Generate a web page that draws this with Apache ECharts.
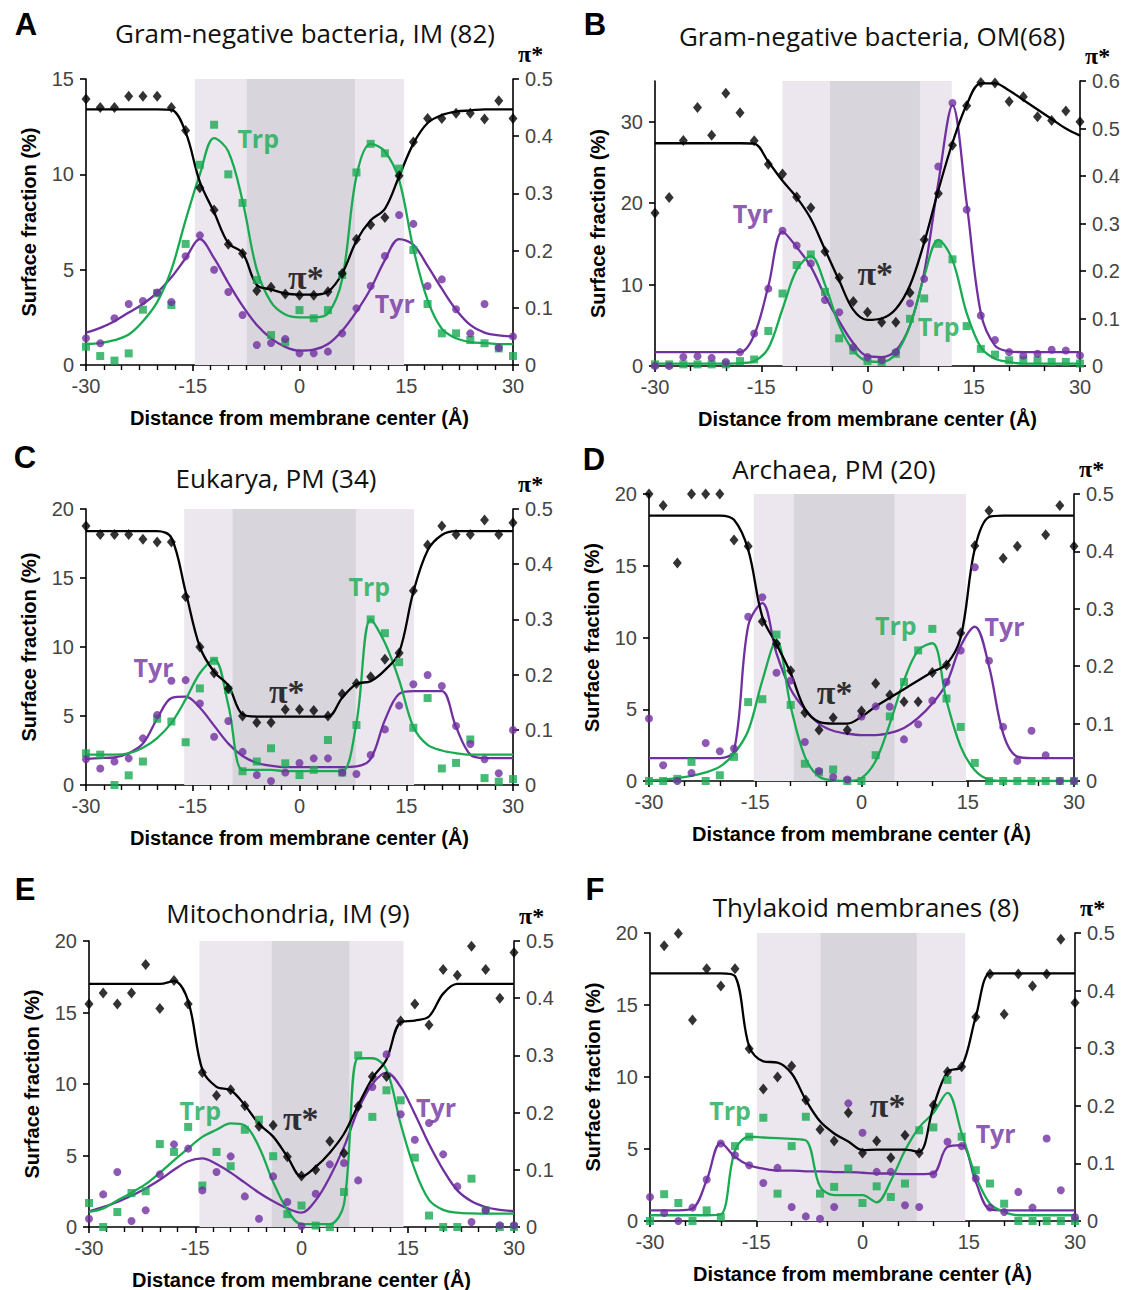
<!DOCTYPE html>
<html>
<head>
<meta charset="utf-8">
<title>Trp / Tyr surface fraction and polarity profiles</title>
<script src="https://cdn.jsdelivr.net/npm/echarts@6/dist/echarts.min.js"></script>
<style>
  html, body { margin: 0; padding: 0; background: #fff; }
  #chart { width: 1132px; height: 1290px; }
</style>
</head>
<body>
<div id="chart"></div>
<script>
// Distance from membrane center (Å), sampled every 2 Å
const xs = [-30,-28,-26,-24,-22,-20,-18,-16,-14,-12,-10,-8,-6,-4,-2,0,2,4,6,8,10,12,14,16,18,20,22,24,26,28,30];

// Axis tick values
const surfTicks15 = [0, 5, 10, 15];
const surfTicks30 = [0, 10, 20, 30];
const surfTicks20 = [0, 5, 10, 15, 20];
const piTicks05 = [0, 0.1, 0.2, 0.3, 0.4, 0.5];
const piTicks06 = [0, 0.1, 0.2, 0.3, 0.4, 0.5, 0.6];
const distTicks = [-30, -15, 0, 15, 30];

// ---- A: Gram-negative bacteria, inner membrane ----
const piA     = [0.465,0.45,0.45,0.47,0.47,0.47,0.45,0.41,0.31,0.271,0.211,0.195,0.13,0.136,0.124,0.122,0.122,0.128,0.16,0.22,0.245,0.258,0.331,0.39,0.431,0.431,0.44,0.44,0.43,0.462,0.431];
const piFitA  = [0.447,0.447,0.447,0.447,0.447,0.447,0.446,0.407,0.32,0.267,0.213,0.196,0.14,0.132,0.125,0.123,0.123,0.128,0.16,0.217,0.253,0.273,0.33,0.387,0.423,0.437,0.443,0.445,0.447,0.447,0.447];
const trpA    = [0.96,0.47,0.23,0.61,2.9,3.76,3.15,6.35,10.5,12.6,10.0,8.5,4.46,1.57,1.2,2.88,2.45,2.88,4.72,10.1,11.6,11.1,10.3,6.03,3.2,1.66,1.66,1.31,1.14,0.87,0.47];
const trpFitA = [1.1,1.15,1.3,1.6,2.3,3.3,5.0,7.6,10.0,11.9,11.2,8.6,5.0,3.3,2.65,2.5,2.5,2.7,4.5,9.9,11.6,11.2,9.7,6.1,3.4,1.9,1.4,1.2,1.15,1.1,1.1];
const tyrA    = [1.4,1.14,2.45,3.2,3.36,3.8,3.3,5.7,6.8,5.0,3.83,2.62,1.05,1.15,1.36,0.61,0.61,0.7,1.66,2.97,4.14,5.72,7.87,7.4,4.14,4.49,2.92,1.66,3.2,0.9,1.5];
const tyrFitA = [1.7,1.95,2.3,2.75,3.2,3.8,4.6,5.6,6.6,5.6,4.3,3.1,2.1,1.4,0.95,0.75,0.8,1.1,1.8,2.8,4.0,5.5,6.6,6.3,5.2,4.0,2.9,2.1,1.7,1.55,1.5];
const outerA = [-14.7, 14.7];
const innerA = [-7.4, 7.8];

// ---- B: Gram-negative bacteria, outer membrane ----
const piB     = [0.322,0.355,0.475,0.544,0.486,0.574,0.533,0.474,0.425,0.404,0.356,0.333,0.241,0.186,0.136,0.113,0.092,0.092,0.154,0.266,0.363,0.465,0.548,0.597,0.596,0.557,0.567,0.525,0.517,0.537,0.514];
const piFitB  = [0.469,0.469,0.469,0.469,0.469,0.469,0.469,0.468,0.43,0.39,0.355,0.31,0.245,0.18,0.118,0.097,0.1,0.12,0.17,0.26,0.37,0.47,0.55,0.595,0.595,0.58,0.56,0.54,0.52,0.5,0.485];
const trpB    = [0.2,0.2,0.2,0.2,0.2,0.2,0.6,0.8,4.3,8.9,12.4,13.7,9.1,3.4,1.9,0.6,0.5,1.5,5.8,8.3,15.0,13.1,4.9,2.1,1.4,0.7,0.7,0.7,0.5,0.5,0.3];
const trpFitB = [0.3,0.3,0.3,0.3,0.3,0.3,0.35,0.6,2.2,7.0,11.8,13.5,10.0,5.0,1.9,0.6,0.5,1.5,5.0,11.0,15.5,13.0,6.5,2.3,0.9,0.5,0.3,0.3,0.3,0.3,0.3];
const tyrB    = [0,0,1.1,1.2,1.0,0.5,1.7,4.0,9.5,16.6,14.8,12.6,8.1,6.6,2.3,1.1,0.7,1.7,7.7,10.7,24.5,32.3,19.2,6.2,3.2,1.7,1.3,1.5,2.0,1.9,1.3];
const tyrFitB = [1.7,1.7,1.7,1.7,1.7,1.7,1.7,3.8,9.8,16.5,14.6,12.2,8.6,5.5,2.8,1.2,1.1,1.9,5.0,11.5,22.5,32.0,20.0,6.5,2.5,1.8,1.7,1.7,1.7,1.7,1.7];
const outerB = [-12.0, 11.9];
const innerB = [-5.3, 7.4];

// ---- C: Eukarya, plasma membrane ----
const piC     = [0.469,0.454,0.454,0.454,0.445,0.44,0.44,0.341,0.25,0.203,0.175,0.125,0.113,0.113,0.137,0.137,0.135,0.125,0.165,0.184,0.196,0.228,0.239,0.352,0.435,0.469,0.454,0.454,0.48,0.454,0.475];
const piFitC  = [0.46,0.46,0.46,0.46,0.46,0.46,0.448,0.35,0.25,0.205,0.18,0.128,0.124,0.124,0.124,0.124,0.124,0.124,0.158,0.183,0.188,0.208,0.24,0.35,0.425,0.453,0.46,0.46,0.46,0.46,0.46];
const trpC    = [2.3,2.2,0,0.7,1.7,4.8,4.6,3.1,7.0,9.0,6.9,1.0,1.7,2.66,1.57,0.72,1.1,3.26,0.9,4.35,12.0,11.0,8.9,4.15,6.3,1.2,1.6,3.3,0.5,0.24,0.43];
const trpFitC = [2.2,2.2,2.2,2.3,2.7,3.4,4.5,6.2,8.1,9.1,5.8,1.1,1.1,1.1,1.0,1.0,1.0,1.0,1.0,4.5,12.0,10.3,7.6,4.2,2.9,2.5,2.3,2.2,2.2,2.2,2.2];
const tyrC    = [1.86,1.2,1.7,1.93,3.38,5.07,7.56,7.6,5.9,3.5,4.64,2.4,0.72,0.29,0.9,1.6,1.93,1.93,0.9,0.8,2.17,4.03,5.75,7.3,7.97,7.17,4.27,2.97,1.86,0.85,3.99];
const tyrFitC = [1.9,1.95,2.0,2.3,3.0,4.8,6.3,6.4,5.6,4.3,3.0,2.1,1.6,1.4,1.3,1.3,1.3,1.3,1.3,1.35,1.9,4.7,6.6,6.8,6.8,6.8,4.2,2.2,1.95,1.95,1.95];
const outerC = [-16.2, 16.1];
const innerC = [-9.4, 7.9];

// ---- D: Archaea, plasma membrane ----
const piD     = [0.5,0.48,0.38,0.5,0.5,0.5,0.42,0.409,0.278,0.239,0.192,0.119,0.089,0.11,0.089,0.122,0.17,0.15,0.138,0.138,0.189,0.202,0.258,0.41,0.471,0.388,0.409,null,0.429,0.48,0.409];
const piFitD  = [0.4625,0.4625,0.4625,0.4625,0.4625,0.4625,0.455,0.403,0.286,0.238,0.188,0.126,0.103,0.1,0.1,0.112,0.13,0.145,0.16,0.175,0.19,0.203,0.25,0.405,0.46,0.4625,0.4625,0.4625,0.4625,0.4625,0.4625];
const trpD    = [0,0,0.15,1.33,0,0.4,1.68,5.5,5.7,10.2,5.3,1.2,0.6,0.8,0,0,1.8,4.5,6.9,9.1,10.6,5.75,3.77,1.26,0,0,0,0,0,0,0];
const trpFitD = [0.05,0.1,0.2,0.35,0.6,1.0,1.9,3.5,7.0,9.8,5.2,1.7,0.3,0.05,0,0.2,1.4,4.0,7.0,9.1,9.6,5.6,2.4,0.75,0.1,0,0,0,0,0,0];
const tyrD    = [4.35,1.1,0,0.56,2.65,2.07,2.26,11.45,12.8,7.54,7.0,2.72,0.7,0.28,0.1,4.5,5.2,5.17,2.9,3.96,5.6,6.9,9.1,14.9,8.38,3.77,1.4,3.5,1.8,0,0];
const tyrFitD = [1.6,1.6,1.6,1.6,1.6,1.6,2.1,10.8,12.4,8.9,6.4,5.0,4.0,3.5,3.3,3.2,3.2,3.35,3.7,4.4,5.4,6.8,9.4,10.75,8.0,3.3,1.7,1.6,1.6,1.6,1.6];
const outerD = [-15.2, 14.75];
const innerD = [-9.55, 4.65];

// ---- E: Mitochondria, inner membrane ----
const piE     = [0.39,0.409,0.39,0.409,0.459,0.382,0.431,0.39,0.27,0.23,0.24,0.212,0.176,0.178,0.123,0.089,0.1,0.15,0.129,0.211,0.263,0.263,0.36,0.39,0.353,0.45,0.44,0.491,0.45,0.4,0.48];
const piFitE  = [0.425,0.425,0.425,0.425,0.425,0.425,0.43,0.395,0.275,0.245,0.239,0.213,0.18,0.158,0.123,0.088,0.105,0.13,0.163,0.213,0.26,0.293,0.358,0.361,0.368,0.408,0.425,0.425,0.425,0.425,0.425];
const trpE    = [1.68,0,1.05,2.38,2.5,5.8,5.25,7.0,2.9,5.25,4.25,6.8,7.5,4.95,0.9,1.5,0.1,0,2.45,12.0,7.7,9.56,8.86,4.85,0.8,0,0,3.38,1.17,0,0];
const trpFitE = [1.05,1.3,1.86,2.4,3.0,3.8,4.66,5.5,6.3,6.8,7.25,7.1,5.6,3.15,1.2,0.2,0.2,0.2,1.6,11.8,11.8,11.0,7.2,4.0,1.9,1.2,1.0,0.95,0.93,0.93,0.93];
const tyrE    = [0.58,2.28,3.85,0.42,1.17,3.68,5.78,5.48,2.56,3.85,4.94,2.14,0.58,3.54,1.75,0.05,2.33,4.38,4.47,3.26,9.79,12.07,7.88,6.1,7.27,5.08,2.84,0.35,1.17,0.12,0.12];
const tyrFitE = [1.1,1.4,1.75,2.2,2.7,3.3,4.0,4.6,4.8,4.4,3.8,3.1,2.4,1.8,1.3,1.0,1.86,3.5,5.6,8.2,10.0,10.8,9.8,7.9,5.8,4.0,2.56,1.8,1.4,1.2,1.1];
const outerE = [-14.4, 14.4];
const innerE = [-4.2, 6.75];

// ---- F: Thylakoid membranes ----
const piF     = [null,0.478,0.499,0.349,0.438,0.408,0.438,0.299,0.229,0.25,0.269,0.21,0.159,0.139,0.188,0.118,0.139,0.11,0.149,0.118,0.201,0.259,0.268,0.354,0.429,0.359,0.429,0.408,0.429,0.489,0.379];
const piFitF  = [0.43,0.43,0.43,0.43,0.43,0.43,0.425,0.303,0.277,0.275,0.256,0.21,0.173,0.152,0.138,0.123,0.124,0.124,0.124,0.12,0.198,0.259,0.268,0.355,0.43,0.43,0.43,0.43,0.43,0.43,0.43];
const trpF    = [0,1.86,1.25,0,0.74,0.28,5.2,5.85,7.17,1.9,5.2,7.24,1.9,2.37,3.64,1.25,2.41,1.67,2.6,6.3,6.5,9.8,5.85,3.53,2.6,1.2,0,0,0,0,0];
const trpFitF = [0.4,0.4,0.4,0.4,0.4,0.45,4.9,5.85,5.8,5.75,5.7,5.6,2.4,1.8,1.8,1.8,1.3,2.8,4.9,6.5,7.5,8.9,6.1,3.1,1.2,0.63,0.4,0.4,0.4,0.4,0.4];
const tyrF    = [1.67,0.56,0,0.93,2.88,5.38,4.57,3.87,2.64,3.69,0.97,0.32,0.16,0.97,8.17,6.13,3.41,3.41,1.09,0.97,3.25,5.5,5.2,2.95,0.93,0.63,2.02,0.93,5.73,2.13,0.28];
const tyrFitF = [0.74,0.74,0.74,0.86,2.83,5.43,4.45,3.87,3.64,3.5,3.5,3.45,3.45,3.4,3.4,3.35,3.3,3.3,3.25,3.25,3.3,5.15,5.27,2.7,0.8,0.74,0.74,0.74,0.74,0.74,0.74];
const outerF = [-14.9, 14.5];
const innerF = [-5.9, 7.66];

// ---- styling ----
const GREEN = '#19aa52';
const PURPLE = '#7030a0';
const INK = '#000000';
const TICK_GREY = '#454545';
const BAND_OUTER = '#ece6ee';
const BAND_INNER = '#d9d5dc';

// Panel layout and annotations
const panels = [
  { letter: 'A', title: 'Gram-negative bacteria, IM (82)', grid: { left: 86, top: 79, width: 427, height: 286 },
    titleAt: [305, 33], letterAt: [26, 24], surfMax: 15, surfTicks: surfTicks15, piMax: 0.5, piTicks: piTicks05, minorSplit: 6,
    pi: piA, piFit: piFitA, trp: trpA, trpFit: trpFitA, tyr: tyrA, tyrFit: tyrFitA, outer: outerA, inner: innerA,
    notes: [['Trp', -5.8, 11.9], ['π*', 0.9, 4.6], ['Tyr', 13.4, 3.25]] },
  { letter: 'B', title: 'Gram-negative bacteria, OM(68)', grid: { left: 655, top: 81, width: 425, height: 285 },
    titleAt: [872, 36], letterAt: [595, 24], surfMax: 35, surfTicks: surfTicks30, piMax: 0.6, piTicks: piTicks06, minorSplit: 3,
    pi: piB, piFit: piFitB, trp: trpB, trpFit: trpFitB, tyr: tyrB, tyrFit: tyrFitB, outer: outerB, inner: innerB,
    notes: [['Tyr', -16.2, 18.8], ['π*', 1.1, 11.4], ['Trp', 10.05, 4.9]] },
  { letter: 'C', title: 'Eukarya, PM (34)', grid: { left: 86, top: 509, width: 427, height: 276 },
    titleAt: [276, 478], letterAt: [25, 457], surfMax: 20, surfTicks: surfTicks20, piMax: 0.5, piTicks: piTicks05, minorSplit: 6,
    pi: piC, piFit: piFitC, trp: trpC, trpFit: trpFitC, tyr: tyrC, tyrFit: tyrFitC, outer: outerC, inner: innerC,
    notes: [['Tyr', -20.5, 8.55], ['π*', -1.8, 6.8], ['Trp', 9.8, 14.4]] },
  { letter: 'D', title: 'Archaea, PM (20)', grid: { left: 649, top: 494, width: 425, height: 287 },
    titleAt: [834, 469], letterAt: [594, 459], surfMax: 20, surfTicks: surfTicks20, piMax: 0.5, piTicks: piTicks05, minorSplit: 3,
    pi: piD, piFit: piFitD, trp: trpD, trpFit: trpFitD, tyr: tyrD, tyrFit: tyrFitD, outer: outerD, inner: innerD,
    notes: [['π*', -3.8, 6.2], ['Trp', 4.85, 10.9], ['Tyr', 20.2, 10.8]] },
  { letter: 'E', title: 'Mitochondria, IM (9)', grid: { left: 89, top: 941, width: 425, height: 286 },
    titleAt: [288, 913], letterAt: [25, 889], surfMax: 20, surfTicks: surfTicks20, piMax: 0.5, piTicks: piTicks05, minorSplit: 6,
    pi: piE, piFit: piFitE, trp: trpE, trpFit: trpFitE, tyr: tyrE, tyrFit: tyrFitE, outer: outerE, inner: innerE,
    notes: [['Trp', -14.3, 8.16], ['π*', -0.1, 7.6], ['Tyr', 19.0, 8.37]] },
  { letter: 'F', title: 'Thylakoid membranes (8)', grid: { left: 650, top: 933, width: 425, height: 288 },
    titleAt: [866, 907], letterAt: [595, 889], surfMax: 20, surfTicks: surfTicks20, piMax: 0.5, piTicks: piTicks05, minorSplit: 3,
    pi: piF, piFit: piFitF, trp: trpF, trpFit: trpFitF, tyr: tyrF, tyrFit: tyrFitF, outer: outerF, inner: innerF,
    notes: [['Trp', -18.7, 7.7], ['π*', 3.55, 8.05], ['Tyr', 18.8, 6.1]] }
];

const pairs = (ys) => xs.map((x, k) => [x, ys[k]]).filter(p => p[1] !== null && p[1] !== undefined);
const piLabel = (v) => (v === 0 ? '0' : v.toFixed(1));

const grids = [], xAxes = [], yAxes = [], series = [], graphics = [];

panels.forEach((p, i) => {
  grids.push(Object.assign({ containLabel: false, outerBoundsMode: 'none' }, p.grid));

  xAxes.push({
    gridIndex: i, type: 'value', min: -30, max: 30, interval: 15,
    axisLine: { show: true, onZero: false, lineStyle: { color: INK, width: 1.6 } },
    axisTick: { show: true, length: 6, lineStyle: { color: INK, width: 1.6 } },
    minorTick: { show: true, splitNumber: p.minorSplit, length: 5, lineStyle: { color: INK, width: 1.4 } },
    splitLine: { show: false }, minorSplitLine: { show: false },
    axisLabel: { customValues: distTicks, fontSize: 20, color: TICK_GREY, fontFamily: 'Liberation Sans', margin: 11 },
    name: 'Distance from membrane center (Å)', nameLocation: 'middle', nameGap: 43, nameMoveOverlap: false,
    nameTextStyle: { fontSize: 20, fontWeight: 'bold', color: INK, fontFamily: 'Liberation Sans' }
  });

  // left: surface fraction
  yAxes.push({
    gridIndex: i, type: 'value', position: 'left', min: 0, max: p.surfMax,
    interval: p.surfTicks[1] - p.surfTicks[0],
    axisLine: { show: true, onZero: false, lineStyle: { color: INK, width: 1.6 } },
    axisTick: { show: true, length: 6, customValues: p.surfTicks, lineStyle: { color: INK, width: 1.6 } },
    splitLine: { show: false },
    axisLabel: { customValues: p.surfTicks, fontSize: 20, color: TICK_GREY, fontFamily: 'Liberation Sans', margin: 12 },
    name: 'Surface fraction (%)', nameLocation: 'middle', nameGap: 47, nameMoveOverlap: false,
    nameTextStyle: { fontSize: 20, fontWeight: 'bold', color: INK, fontFamily: 'Liberation Sans' }
  });

  // right: polarity pi*
  yAxes.push({
    gridIndex: i, type: 'value', position: 'right', min: 0, max: p.piMax, interval: 0.1,
    axisLine: { show: true, onZero: false, lineStyle: { color: INK, width: 1.6 } },
    axisTick: { show: true, length: 6, customValues: p.piTicks, lineStyle: { color: INK, width: 1.6 } },
    splitLine: { show: false },
    axisLabel: { customValues: p.piTicks, formatter: piLabel, fontSize: 20, lineHeight: 20,
                 color: TICK_GREY, fontFamily: 'Liberation Sans', margin: 12 },
    name: 'π*', nameLocation: 'end', nameGap: 16, nameMoveOverlap: false,
    nameTextStyle: { fontSize: 24, lineHeight: 19, fontWeight: 'bold', color: INK, fontFamily: 'Liberation Serif',
                     align: 'left', verticalAlign: 'bottom', padding: [0, 0, 0, 5] }
  });

  const yL = 2 * i, yR = 2 * i + 1;

  // hydrophobic-core shading: outer interface band and inner core band
  series.push({
    type: 'scatter', xAxisIndex: i, yAxisIndex: yL, data: [], silent: true, z: 0,
    markArea: {
      silent: true,
      data: [
        [{ xAxis: p.outer[0], itemStyle: { color: BAND_OUTER } }, { xAxis: p.outer[1] }],
        [{ xAxis: p.inner[0], itemStyle: { color: BAND_INNER } }, { xAxis: p.inner[1] }]
      ]
    }
  });

  const fit = (data, color, yIdx) => ({
    type: 'line', xAxisIndex: i, yAxisIndex: yIdx, data: pairs(data), smooth: 0.35,
    symbol: 'none', silent: true, z: 2, lineStyle: { color, width: 2.3 }, itemStyle: { color }
  });
  series.push(fit(p.tyrFit, PURPLE, yL));
  series.push(fit(p.trpFit, GREEN, yL));
  series.push(fit(p.piFit, INK, yR));

  series.push({ type: 'scatter', xAxisIndex: i, yAxisIndex: yL, data: pairs(p.trp), symbol: 'rect',
    symbolSize: 8, z: 3, silent: true, itemStyle: { color: GREEN } });
  series.push({ type: 'scatter', xAxisIndex: i, yAxisIndex: yL, data: pairs(p.tyr), symbol: 'circle',
    symbolSize: 8, z: 4, silent: true, itemStyle: { color: PURPLE } });
  series.push({ type: 'scatter', xAxisIndex: i, yAxisIndex: yR, data: pairs(p.pi), symbol: 'diamond',
    symbolSize: [9, 11], z: 5, silent: true, itemStyle: { color: INK } });

  // in-plot curve names
  series.push({
    type: 'scatter', xAxisIndex: i, yAxisIndex: yL, symbolSize: 1, z: 6, silent: true,
    itemStyle: { color: 'rgba(0,0,0,0)' },
    data: p.notes.map(([txt, x, y]) => {
      const isPi = txt === 'π*';
      return {
        value: [x, y],
        label: {
          show: true, position: 'inside', formatter: txt,
          color: isPi ? INK : (txt === 'Trp' ? GREEN : PURPLE),
          fontFamily: isPi ? 'Liberation Serif' : 'Open Sans',
          fontWeight: 'bold', fontSize: isPi ? 34 : 25
        }
      };
    })
  });

  graphics.push({
    type: 'text', x: p.titleAt[0], y: p.titleAt[1], silent: true,
    style: { text: p.title, fill: '#111', font: '26px "Open Sans"', fontSize: 26, fontFamily: 'Open Sans',
             align: 'center', verticalAlign: 'middle', textAlign: 'center', textVerticalAlign: 'middle' }
  });
  graphics.push({
    type: 'text', x: p.letterAt[0], y: p.letterAt[1], silent: true,
    style: { text: p.letter, fill: '#000', font: 'bold 31px "Liberation Sans"', fontSize: 31, fontWeight: 'bold',
             fontFamily: 'Liberation Sans', align: 'center', verticalAlign: 'middle', textAlign: 'center', textVerticalAlign: 'middle' }
  });
});

const chart = echarts.init(document.getElementById('chart'), null, { renderer: 'svg', width: 1132, height: 1290 });
chart.setOption({
  animation: false,
  backgroundColor: '#ffffff',
  grid: grids,
  xAxis: xAxes,
  yAxis: yAxes,
  series: series,
  graphic: graphics
});
</script>
</body>
</html>
